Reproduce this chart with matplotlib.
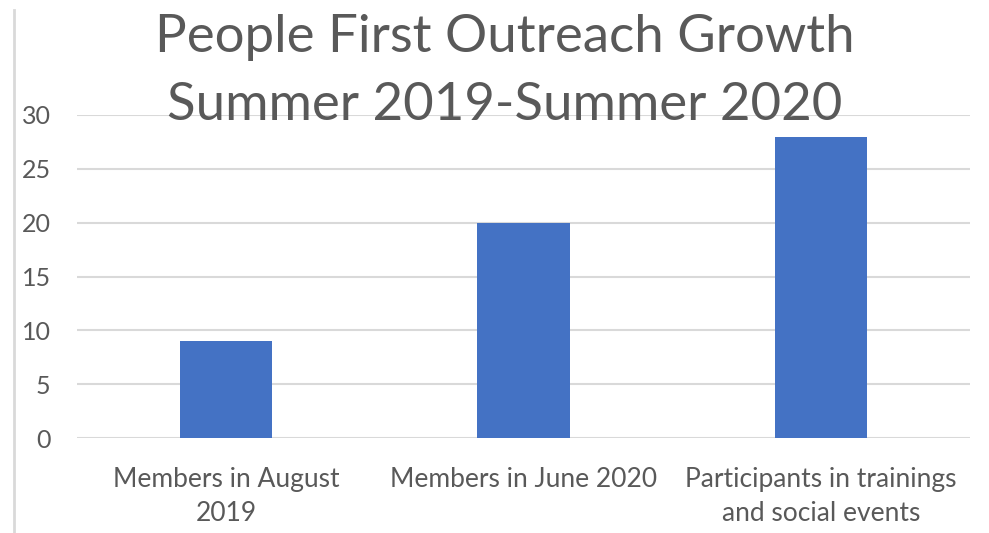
import matplotlib.pyplot as plt

categories = ['Members in August\n2019', 'Members in June 2020',
              'Participants in trainings\nand social events']
values = [9, 20, 28]
yticks = [0, 5, 10, 15, 20, 25, 30]
title_lines = ['People First Outreach Growth', 'Summer 2019-Summer 2020']

plt.rcParams['font.family'] = ['Lato', 'DejaVu Sans']
txt = '#595959'

fig = plt.figure(figsize=(9.89, 5.33), dpi=100)
ax = fig.add_axes([77 / 989, 1 - 438 / 533, (970 - 77) / 989, (438 - 115) / 533])

x = range(len(values))
ax.bar(x, values, width=0.31, color='#4472c4', zorder=3)
ax.set_xlim(-0.5, 2.5)
ax.set_ylim(0, 30)
ax.set_yticks(yticks)
ax.set_xticks(list(x))
ax.set_xticklabels(categories, fontsize=19, color=txt, linespacing=1.45)
ax.tick_params(axis='y', labelsize=18, labelcolor=txt, length=0, pad=19)
ax.tick_params(axis='x', length=0, pad=21)
ax.grid(axis='y', color='#d9d9d9', linewidth=1.5, zorder=0)
for s in ax.spines.values():
    s.set_visible(False)

# title sits partly over the plot area, like the original
fig.text(0.51, 1 - 52 / 533, title_lines[0], ha='center', va='baseline',
         fontsize=38, color=txt)
fig.text(0.51, 1 - 120 / 533, title_lines[1], ha='center', va='baseline',
         fontsize=38, color=txt)

fig.add_artist(plt.Line2D([14 / 989, 14 / 989], [0, 1 - 10 / 533],
                          color='#d9d9d9', linewidth=2))

fig.savefig('out.png', dpi=100)
